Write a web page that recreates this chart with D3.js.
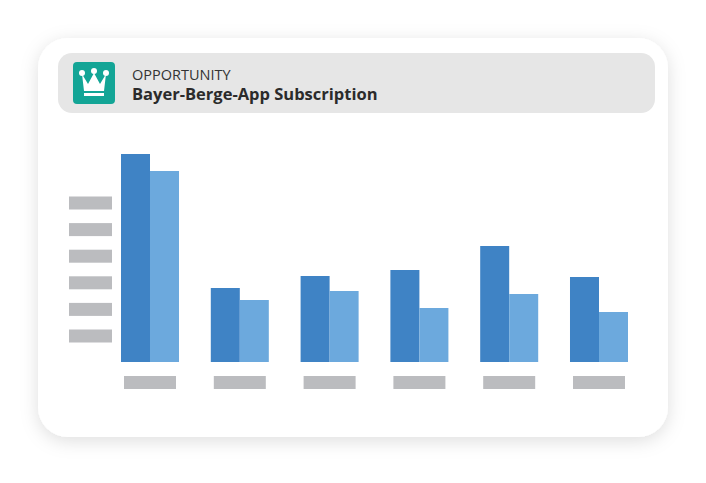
<!DOCTYPE html>
<html>
<head>
<meta charset="utf-8">
<script src="https://cdn.jsdelivr.net/npm/d3@7"></script>
<style>
  body { margin: 0; background: #fff; }
</style>
</head>
<body>
<div id="chart"></div>
<script>
var categories = ["A", "B", "C", "D", "E", "F"];
var seriesA = [208, 74, 86, 92, 116, 85];
var seriesB = [191, 62, 71, 54, 68, 50];
var yTicks = [1, 2, 3, 4, 5, 6];

var svg = d3.select("#chart").append("svg")
    .attr("width", 706)
    .attr("height", 483);

var defs = svg.append("defs");
var f = defs.append("filter").attr("id", "shadow")
    .attr("x", "-10%").attr("y", "-10%").attr("width", "120%").attr("height", "125%");
f.append("feDropShadow").attr("dx", 0).attr("dy", 4).attr("stdDeviation", 9)
    .attr("flood-color", "#000").attr("flood-opacity", 0.13);

// card
svg.append("rect")
    .attr("x", 38).attr("y", 38).attr("width", 630).attr("height", 399)
    .attr("rx", 30).attr("fill", "#fff").attr("filter", "url(#shadow)");

// header
svg.append("rect")
    .attr("x", 58).attr("y", 53).attr("width", 597).attr("height", 60)
    .attr("rx", 14).attr("fill", "#e6e6e6");

var icon = svg.append("g").attr("transform", "translate(73,62)");
icon.append("rect").attr("width", 42).attr("height", 42).attr("rx", 4).attr("fill", "#13a596");
icon.append("path")
    .attr("d", "M9,12 L15,22 L21,11 L27,22 L33,12 L31,29 L11,29 Z")
    .attr("fill", "#fff");
icon.append("rect").attr("x", 11).attr("y", 31).attr("width", 20).attr("height", 3).attr("fill", "#fff");
[[9, 11], [21, 9], [33, 11]].forEach(function(p) {
  icon.append("circle").attr("cx", p[0]).attr("cy", p[1]).attr("r", 3).attr("fill", "#fff");
});

svg.append("text").attr("x", 132).attr("y", 80)
    .attr("font-family", "Open Sans").attr("font-size", 14.5).attr("fill", "#333")
    .text("OPPORTUNITY");
svg.append("text").attr("x", 132).attr("y", 100)
    .attr("font-family", "Open Sans").attr("font-weight", "bold").attr("font-size", 16.5).attr("fill", "#2b2b2b")
    .text("Bayer-Berge-App Subscription");

// scales
var x = d3.scaleBand().domain(categories).range([121, 628]).paddingInner(0.354).paddingOuter(0);
var y = d3.scaleLinear().domain([0, 208]).range([362, 154]);
var yPos = d3.scaleLinear().domain([1, 6]).range([336, 203]);

// y placeholder labels
svg.selectAll(".ylab").data(yTicks).enter().append("rect")
    .attr("x", 69).attr("y", function(d) { return yPos(d) - 6.5; })
    .attr("width", 43).attr("height", 13).attr("fill", "#bbbcbf");

var half = x.bandwidth() / 2;
svg.selectAll(".barA").data(seriesA).enter().append("rect")
    .attr("x", function(d, i) { return x(categories[i]); })
    .attr("y", function(d) { return y(d); })
    .attr("width", half)
    .attr("height", function(d) { return y(0) - y(d); })
    .attr("fill", "#3f83c5");
svg.selectAll(".barB").data(seriesB).enter().append("rect")
    .attr("x", function(d, i) { return x(categories[i]) + half; })
    .attr("y", function(d) { return y(d); })
    .attr("width", half)
    .attr("height", function(d) { return y(0) - y(d); })
    .attr("fill", "#6ca9dd");

// x placeholder labels
svg.selectAll(".xlab").data(categories).enter().append("rect")
    .attr("x", function(d) { return x(d) + half - 26; })
    .attr("y", 376).attr("width", 52).attr("height", 13)
    .attr("fill", "#bbbcbf");
</script>
</body>
</html>
